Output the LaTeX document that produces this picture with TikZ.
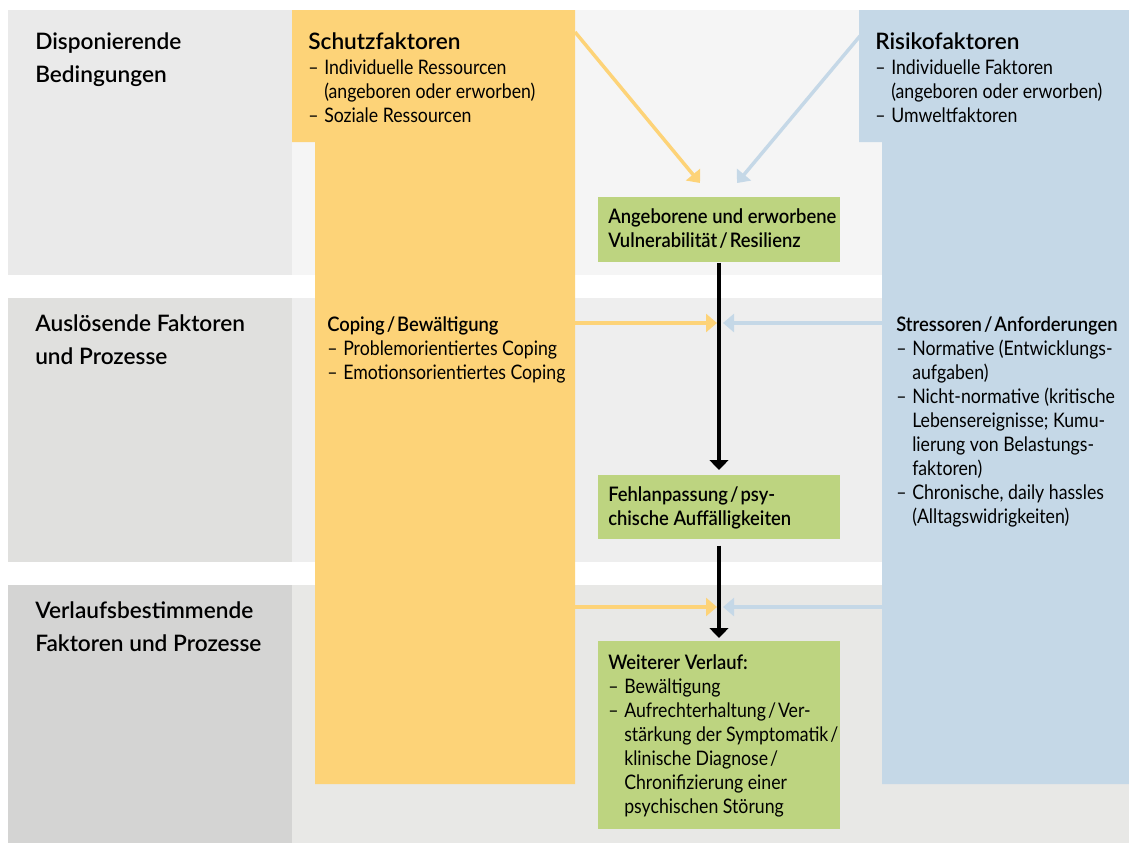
\documentclass[tikz,border=0pt]{standalone}
\usepackage{fontspec}
\setmainfont{Lato}[FakeStretch=0.885]
\newfontfamily\medfont{Lato Semibold}[FakeStretch=0.92]
\newfontfamily\labelfont{Lato Semibold}[FakeStretch=1.0]
\usetikzlibrary{arrows.meta}

\definecolor{schutz}{HTML}{FDD378}
\definecolor{risiko}{HTML}{C5D8E7}
\definecolor{verlauf}{HTML}{BDD480}
\definecolor{rowAlabel}{HTML}{EAEAEA}
\definecolor{rowAfield}{HTML}{F5F5F5}
\definecolor{rowBlabel}{HTML}{E0E0DE}
\definecolor{rowBfield}{HTML}{EEEEEE}
\definecolor{rowClabel}{HTML}{D4D4D3}
\definecolor{rowCfield}{HTML}{E8E8E6}

\newcommand{\itm}{\makebox[12pt][l]{–}}
\newcommand{\ind}{\hspace*{12pt}}
\newcommand{\sls}{\kern1.5pt/\kern1.5pt}

\begin{document}
\begin{tikzpicture}[x=0.75pt,y=-0.75pt,
  row label/.style={anchor=base west,inner sep=0pt,align=left,font=\labelfont\fontsize{17}{24.75}\selectfont},
  list text/.style={anchor=base west,inner sep=0pt,align=left,font=\fontsize{15}{18}\selectfont},
  green box/.style={anchor=north west,fill=verlauf,inner sep=0pt,minimum width=181.1pt},
  yellow arrow/.style={draw=schutz,line width=2.6pt,-{Triangle[width=13.5pt,length=8.25pt]}},
  blue arrow/.style={draw=risiko,line width=2.6pt,-{Triangle[width=13.5pt,length=8.25pt]}},
  black arrow/.style={draw=black,line width=3pt,-{Triangle[width=14pt,length=7.5pt]}}]

  \useasboundingbox (0,0) rectangle (1129,843);
  \fill[white] (0,0) rectangle (1129,843);

  % rows
  \fill[rowAfield] (292,10) rectangle (1129,275);
  \fill[rowAlabel] (8,10) rectangle (292,275);
  \fill[rowBfield] (292,298) rectangle (1129,562);
  \fill[rowBlabel] (8,298) rectangle (292,562);
  \fill[rowCfield] (292,585) rectangle (1129,843);
  \fill[rowClabel] (8,585) rectangle (292,843);

  % columns
  \fill[schutz] (292,10) -- (575,10) -- (575,784) -- (315,784) -- (315,142) -- (292,142) -- cycle;
  \fill[risiko] (859,10) -- (1129,10) -- (1129,784) -- (882,784) -- (882,142) -- (859,142) -- cycle;

  \node[green box,minimum height=48.75pt] (vul) at (598,197) {};
  \node[green box,minimum height=48pt] (fehl) at (598,475) {};
  \node[green box,minimum height=141pt] (weiter) at (598,641) {};

  \coordinate (schutz out) at (575,32);
  \coordinate (risiko out) at (860,36);
  \coordinate (vul in l) at (700,183);
  \coordinate (vul in r) at (737,183);
  \coordinate (coping out) at (575,323);
  \coordinate (stress out) at (882,323);
  \coordinate (fehl in l) at (717,323);
  \coordinate (fehl in r) at (723,323);
  \coordinate (schutz low) at (575,607);
  \coordinate (risiko low) at (882,607);
  \coordinate (weiter in l) at (717,607);
  \coordinate (weiter in r) at (723,607);

  \draw[yellow arrow] (schutz out) -- (vul in l);
  \draw[blue arrow] (risiko out) -- (vul in r);
  \draw[yellow arrow] (coping out) -- (fehl in l);
  \draw[blue arrow] (stress out) -- (fehl in r);
  \draw[yellow arrow] (schutz low) -- (weiter in l);
  \draw[blue arrow] (risiko low) -- (weiter in r);
  \draw[black arrow,shorten >=3.75pt] (vul.south) -- (fehl.north);
  \draw[black arrow,shorten <=4.5pt,shorten >=2.25pt] (fehl.south) -- (weiter.north);

  % texts (anchored at the baseline of the last line)
  \node[row label] (dispo) at (35,82) {Disponierende\\Bedingungen};
  \node[row label] (ausl) at (35,364) {Auslösende Faktoren\\und Prozesse};
  \node[row label] (verl) at (35,651) {Verlaufsbestimmende\\Faktoren und Prozesse};

  \node[list text] (schutz text) at (308,122) {{\labelfont\fontsize{17}{18}\selectfont Schutzfaktoren}\\[0.75pt]
    \itm Individuelle Ressourcen\\
    \ind (angeboren oder erworben)\\
    \itm Soziale Ressourcen};
  \node[list text] (risiko text) at (875,122) {{\labelfont\fontsize{17}{18}\selectfont Risikofaktoren}\\[0.75pt]
    \itm Individuelle Faktoren\\
    \ind (angeboren oder erworben)\\
    \itm Umweltfaktoren};
  \node[list text] (coping text) at (327,379) {{\medfont Coping\sls Bewältigung}\\
    \itm Problemorientiertes Coping\\
    \itm Emotionsorientiertes Coping};
  \node[list text] (stress text) at (896,523) {{\medfont Stressoren\sls Anforderungen}\\
    \itm Normative (Entwicklungs-\\
    \ind aufgaben)\\
    \itm Nicht-normative (kritische\\
    \ind Lebensereignisse; Kumu-\\
    \ind lierung von Belastungs-\\
    \ind faktoren)\\
    \itm Chronische, daily hassles\\
    \ind (Alltagswidrigkeiten)};
  \node[list text,font=\medfont\fontsize{15}{18}\selectfont] (vul text) at (608,247) {Angeborene und erworbene\\Vulnerabilität\sls Resilienz};
  \node[list text,font=\medfont\fontsize{15}{18}\selectfont] (fehl text) at (608,525) {Fehlanpassung\sls psy-\\chische Auffälligkeiten};
  \node[list text] (weiter text) at (608,813) {{\medfont Weiterer Verlauf:}\\
    \itm Bewältigung\\
    \itm Aufrechterhaltung\sls Ver-\\
    \ind stärkung der Symptomatik\sls\\
    \ind klinische Diagnose\sls\\
    \ind Chronifizierung einer\\
    \ind psychischen Störung};
\end{tikzpicture}
\end{document}
